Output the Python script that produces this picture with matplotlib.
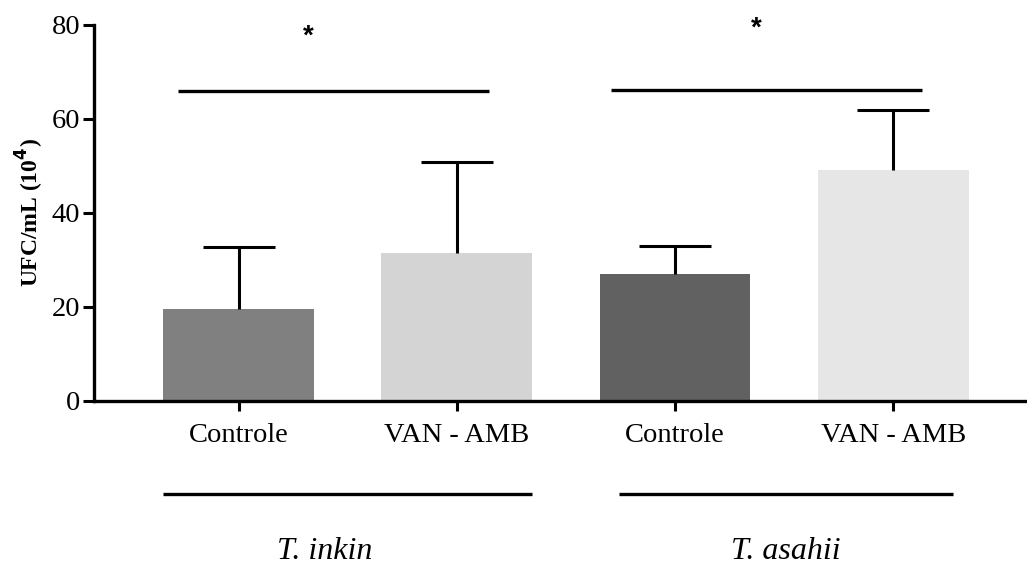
import matplotlib
matplotlib.use("Agg")
import matplotlib.pyplot as plt

categories = ["Controle", "VAN - AMB", "Controle", "VAN - AMB"]
means = [19.6, 31.5, 27.0, 49.1]
sd_upper = [13.2, 19.4, 6.0, 12.8]
colors = ["#808080", "#d4d4d4", "#616161", "#e6e6e6"]
groups = ["T. inkin", "T. asahii"]
sig_height = [66.0, 66.2]
sig_labels = ["*", "*"]

plt.rcParams['font.family'] = ['Liberation Serif', 'DejaVu Serif']

fig = plt.figure(figsize=(10.27, 5.69), dpi=100)
ax = fig.add_axes([94/1027, (569-401)/569, (1025-94)/1027, (401-25)/569])

x = list(range(len(categories)))
ax.bar(x, means, width=0.69, color=colors, zorder=2)
_, caps, _ = ax.errorbar(x, means, yerr=[[0]*4, sd_upper], fmt='none', ecolor='black',
                         elinewidth=2.2, capsize=26, capthick=2.2, zorder=3)
caps[0].set_visible(False)

ax.set_xlim(-0.662, 3.603)
ax.set_ylim(0, 80)
ax.set_yticks([0, 20, 40, 60, 80])
ax.set_xticks(x)
ax.set_xticklabels(categories, fontsize=20.5)
ax.tick_params(axis='y', labelsize=20.5, width=2.2, length=8, pad=2)
ax.tick_params(axis='x', width=2.2, length=7, pad=9)
for s in ['top', 'right']:
    ax.spines[s].set_visible(False)
for s in ['left', 'bottom']:
    ax.spines[s].set_linewidth(2.4)

ax.set_ylabel("UFC/mL (10$^\\mathbf{4}$)", fontsize=17, fontweight='bold', labelpad=4)

# significance bars
sig_x = [(-0.277, 1.147), (1.706, 3.131)]
star_pos = [(0.32, 77.5), (2.37, 79.3)]
for (x0, x1), h, (sx, sy), lab in zip(sig_x, sig_height, star_pos, sig_labels):
    ax.plot([x0, x1], [h, h], color='black', lw=2.4, solid_capstyle='butt', clip_on=False)
    ax.text(sx, sy, lab, ha='center', va='center', fontsize=20, fontweight='bold',
            family=['Liberation Sans', 'DejaVu Sans'])

# group lines below axis
trans = ax.get_xaxis_transform()
grp_x = [(-0.344, 1.346), (1.743, 3.273)]
grp_cx = [0.396, 2.508]
for (x0, x1), cx, g in zip(grp_x, grp_cx, groups):
    ax.plot([x0, x1], [-0.247, -0.247], color='black', lw=2.4, transform=trans,
            clip_on=False, solid_capstyle='butt')
    ax.text(cx, -0.40, g, transform=trans, ha='center', va='center',
            fontsize=23, style='italic')

fig.savefig("out.png", dpi=100)
